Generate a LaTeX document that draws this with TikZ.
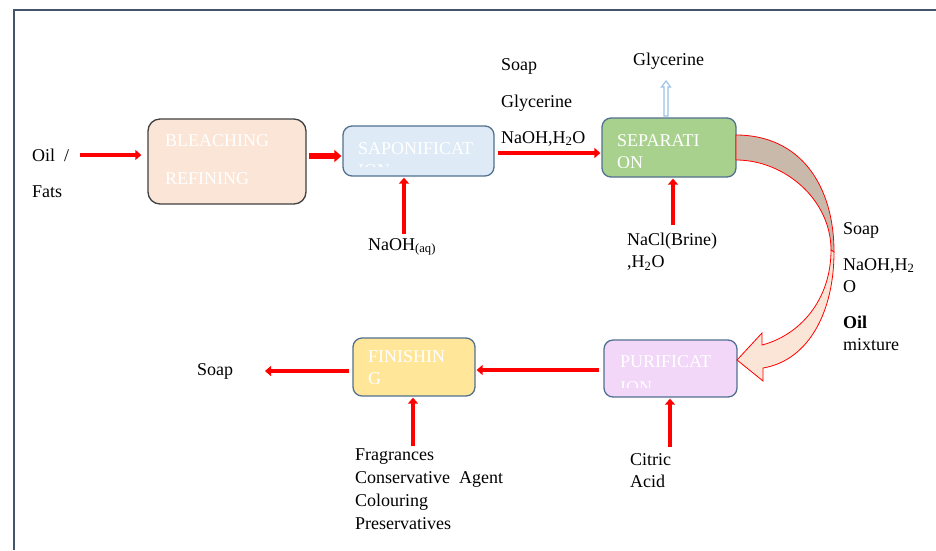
\documentclass[tikz,border=0pt]{standalone}
\usepackage{fontspec}
\setmainfont{Liberation Serif}
\usetikzlibrary{arrows.meta}

\definecolor{framecol}{HTML}{44546A}
\definecolor{edgecol}{HTML}{52708F}
\definecolor{bleachfill}{HTML}{FBE5D6}
\definecolor{sapfill}{HTML}{DEEBF7}
\definecolor{sepfill}{HTML}{A9D18E}
\definecolor{purfill}{HTML}{F2D7F9}
\definecolor{finfill}{HTML}{FFE699}
\definecolor{backfill}{HTML}{C9B9AA}
\definecolor{glyblue}{HTML}{9DC3E6}

\begin{document}
\begin{tikzpicture}[x=1pt, y=-1pt,
    every node/.style={font=\fontsize{18}{22}\selectfont, inner sep=0pt},
    stage/.style={draw=edgecol, line width=1.3pt, rounded corners=9pt},
    boxtext/.style={anchor=west, align=left, text=white},
    label/.style={anchor=north west, align=left},
    flow/.style={draw=red, line width=4pt, -{Triangle[length=6pt,width=10pt]}}]
  \useasboundingbox (0,0) rectangle (936,550);
  %%% frame round the figure
  \draw[framecol, line width=2pt] (14,550) -- (14,10) -- (936,10);

  %%% process stages
  \node[stage, draw=black!75, fill=bleachfill, rounded corners=12pt,
        minimum width=158pt, minimum height=85pt] (bleach) at (227,161.5) {};
  \node[stage, fill=sapfill, minimum width=151pt, minimum height=50pt] (sap) at (418.5,151) {};
  \node[stage, fill=sepfill, minimum width=134pt, minimum height=59pt] (sep) at (669,147.5) {};
  \node[stage, fill=purfill, minimum width=133pt, minimum height=57pt] (pur) at (670.5,368.5) {};
  \node[stage, fill=finfill, minimum width=122pt, minimum height=58pt] (fin) at (414,367) {};

  %%% stage names, cut off at the text frame of each box
  \foreach \b/\x/\y/\t in {bleach/165/160/{BLEACHING\\[16pt]REFINING},
                           sap/358/160/{SAPONIFICAT\\ION},
                           sep/617/152/{SEPARATI\\ON},
                           pur/620/375/{PURIFICAT\\[4pt]ION},
                           fin/368/368/{FINISHIN\\G}}{
    \begin{scope}
      \clip ([yshift=10pt]\b.south west) rectangle (\b.north east);
      \node[boxtext] (\b text) at (\x,\y) {\t};
    \end{scope}
  }

  %%% inputs and outputs
  \node[label] (oil) at (32,149) {Oil\hspace{9pt}/\\[14pt]Fats};
  \node[label] (mixout) at (501,58) {Soap\\[15pt]Glycerine\\[14pt]NaOH,H\textsubscript{2}O};
  \node[label] (glyout) at (633,53) {Glycerine};
  \node[label] (naoh) at (368,238) {NaOH\textsubscript{(aq)}};
  \node[label] (nacl) at (627,233) {NaCl(Brine)\\,H\textsubscript{2}O};
  \node[label] (sepout) at (843,222) {Soap\\[14pt]NaOH,H\textsubscript{2}\\O\\[14pt]\textbf{Oil}\\mixture};
  \node[label] (soapout) at (197,363) {Soap};
  \node[label] (additives) at (355,448) {Fragrances\\[1pt]Conservative\hspace{9pt}Agent\\[1pt]Colouring\\[1pt]Preservatives};
  \node[label] (citric) at (630,453) {Citric\\Acid};

  %%% free ends of the arrows
  \coordinate (oilend) at (80,155);
  \coordinate (naohend) at (404,234);
  \coordinate (naclend) at (673,225);
  \coordinate (soapend) at (265,371);
  \coordinate (addend) at (413,446);
  \coordinate (citend) at (670,447);
  \coordinate (glybase) at (666,116);

  %%% red flow arrows
  \draw[flow, line width=3.5pt, shorten >=6pt] (oilend) -- (bleach.west |- oilend);
  \draw[flow, line width=6pt, -{Triangle[length=7pt,width=12pt]}, shorten <=2pt, shorten >=1pt]
       (bleach.east |- 0,156) -- (sap.west |- 0,156);
  \draw[flow, shorten >=1pt] (naohend) -- (naohend |- sap.south);
  \draw[flow, line width=3.5pt, shorten <=3pt, shorten >=1pt] (sap.east |- 0,153) -- (sep.west |- 0,153);
  \draw[flow, shorten >=1pt] (naclend) -- (naclend |- sep.south);
  \draw[flow, shorten <=4pt, shorten >=1pt] (pur.west |- 0,370) -- (fin.east |- 0,370);
  \draw[flow, shorten <=3pt] (fin.west |- 0,371) -- (soapend);
  \draw[flow, shorten >=1pt] (addend) -- (addend |- fin.south);
  \draw[flow, shorten >=1pt] (citend) -- (citend |- pur.south);

  %%% hollow glycerine arrow
  \draw[glyblue, fill=white, line width=1.2pt] (glybase) ++(-2,0) -- ++(0,-29) -- ++(-2.5,0)
       -- ++(4.5,-6) -- ++(4.5,6) -- ++(-2.5,0) -- ++(0,29) -- cycle;

  %%% curved arrow from separation to purification
  \draw[red, fill=backfill, line width=0.8pt] (736,135) .. controls (800,135) and (834,185) .. (834,252)
       -- (831,250) .. controls (831,200) and (785,160) .. (736,160) -- cycle;
  \draw[red, fill=bleachfill, line width=0.8pt] (834,252) .. controls (834,310) and (810,360) .. (763,368)
       -- (763,381) -- (737,360) -- (762,333) -- (762,345)
       .. controls (800,335) and (831,300) .. (831,250) -- cycle;
\end{tikzpicture}
\end{document}
